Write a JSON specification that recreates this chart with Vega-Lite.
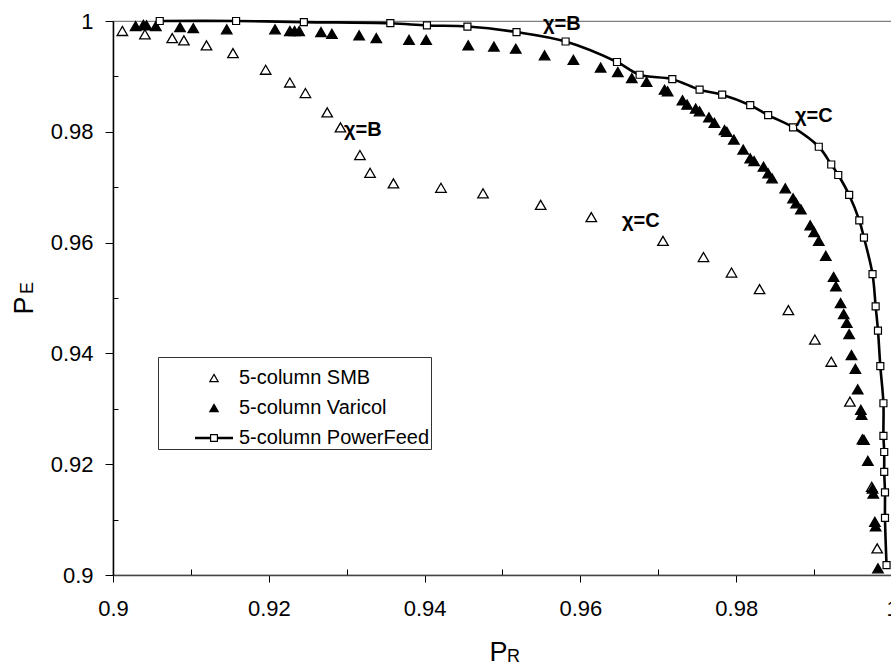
{
  "$schema": "https://vega.github.io/schema/vega-lite/v6.json",
  "width": 779,
  "height": 554,
  "autosize": {"type": "none"},
  "padding": {"left": 113, "top": 21, "right": 0, "bottom": 90},
  "background": "white",
  "view": {"stroke": "#808080", "strokeWidth": 1.2},
  "config": {"font": "Liberation Sans"},
  "datasets": {
    "tri": [
      {"series": "5-column SMB", "x": 0.9012, "y": 0.9982},
      {"series": "5-column SMB", "x": 0.9041, "y": 0.9976},
      {"series": "5-column SMB", "x": 0.9076, "y": 0.9969},
      {"series": "5-column SMB", "x": 0.9091, "y": 0.9965},
      {"series": "5-column SMB", "x": 0.9120, "y": 0.9956},
      {"series": "5-column SMB", "x": 0.9154, "y": 0.9942},
      {"series": "5-column SMB", "x": 0.9196, "y": 0.9912},
      {"series": "5-column SMB", "x": 0.9227, "y": 0.9889},
      {"series": "5-column SMB", "x": 0.9247, "y": 0.9870},
      {"series": "5-column SMB", "x": 0.9275, "y": 0.9835},
      {"series": "5-column SMB", "x": 0.9292, "y": 0.9808},
      {"series": "5-column SMB", "x": 0.9317, "y": 0.9758},
      {"series": "5-column SMB", "x": 0.9330, "y": 0.9726},
      {"series": "5-column SMB", "x": 0.9360, "y": 0.9707},
      {"series": "5-column SMB", "x": 0.9421, "y": 0.9699},
      {"series": "5-column SMB", "x": 0.9475, "y": 0.9689},
      {"series": "5-column SMB", "x": 0.9549, "y": 0.9668},
      {"series": "5-column SMB", "x": 0.9614, "y": 0.9646},
      {"series": "5-column SMB", "x": 0.9706, "y": 0.9603},
      {"series": "5-column SMB", "x": 0.9758, "y": 0.9574},
      {"series": "5-column SMB", "x": 0.9794, "y": 0.9546},
      {"series": "5-column SMB", "x": 0.9830, "y": 0.9516},
      {"series": "5-column SMB", "x": 0.9867, "y": 0.9478},
      {"series": "5-column SMB", "x": 0.9901, "y": 0.9425},
      {"series": "5-column SMB", "x": 0.9922, "y": 0.9385},
      {"series": "5-column SMB", "x": 0.9946, "y": 0.9313},
      {"series": "5-column SMB", "x": 0.9974, "y": 0.9159},
      {"series": "5-column SMB", "x": 0.9981, "y": 0.9048},
      {"series": "5-column Varicol", "x": 0.9029, "y": 0.9991},
      {"series": "5-column Varicol", "x": 0.9039, "y": 0.9993},
      {"series": "5-column Varicol", "x": 0.9043, "y": 0.9992},
      {"series": "5-column Varicol", "x": 0.9055, "y": 0.9991},
      {"series": "5-column Varicol", "x": 0.9086, "y": 0.9989},
      {"series": "5-column Varicol", "x": 0.9103, "y": 0.9987},
      {"series": "5-column Varicol", "x": 0.9146, "y": 0.9985},
      {"series": "5-column Varicol", "x": 0.9208, "y": 0.9985},
      {"series": "5-column Varicol", "x": 0.9227, "y": 0.9982},
      {"series": "5-column Varicol", "x": 0.9233, "y": 0.9982},
      {"series": "5-column Varicol", "x": 0.9239, "y": 0.9982},
      {"series": "5-column Varicol", "x": 0.9267, "y": 0.9980},
      {"series": "5-column Varicol", "x": 0.9281, "y": 0.9977},
      {"series": "5-column Varicol", "x": 0.9316, "y": 0.9974},
      {"series": "5-column Varicol", "x": 0.9338, "y": 0.9969},
      {"series": "5-column Varicol", "x": 0.9380, "y": 0.9966},
      {"series": "5-column Varicol", "x": 0.9402, "y": 0.9966},
      {"series": "5-column Varicol", "x": 0.9456, "y": 0.9956},
      {"series": "5-column Varicol", "x": 0.9489, "y": 0.9954},
      {"series": "5-column Varicol", "x": 0.9517, "y": 0.9950},
      {"series": "5-column Varicol", "x": 0.9554, "y": 0.9938},
      {"series": "5-column Varicol", "x": 0.9591, "y": 0.9930},
      {"series": "5-column Varicol", "x": 0.9626, "y": 0.9916},
      {"series": "5-column Varicol", "x": 0.9648, "y": 0.9908},
      {"series": "5-column Varicol", "x": 0.9666, "y": 0.9897},
      {"series": "5-column Varicol", "x": 0.9685, "y": 0.9890},
      {"series": "5-column Varicol", "x": 0.9708, "y": 0.9876},
      {"series": "5-column Varicol", "x": 0.9712, "y": 0.9873},
      {"series": "5-column Varicol", "x": 0.9731, "y": 0.9857},
      {"series": "5-column Varicol", "x": 0.9737, "y": 0.9849},
      {"series": "5-column Varicol", "x": 0.9748, "y": 0.9842},
      {"series": "5-column Varicol", "x": 0.9753, "y": 0.9837},
      {"series": "5-column Varicol", "x": 0.9765, "y": 0.9826},
      {"series": "5-column Varicol", "x": 0.9772, "y": 0.9816},
      {"series": "5-column Varicol", "x": 0.9785, "y": 0.9803},
      {"series": "5-column Varicol", "x": 0.9788, "y": 0.9800},
      {"series": "5-column Varicol", "x": 0.9797, "y": 0.9786},
      {"series": "5-column Varicol", "x": 0.9809, "y": 0.9768},
      {"series": "5-column Varicol", "x": 0.9818, "y": 0.9752},
      {"series": "5-column Varicol", "x": 0.9823, "y": 0.9747},
      {"series": "5-column Varicol", "x": 0.9835, "y": 0.9737},
      {"series": "5-column Varicol", "x": 0.9841, "y": 0.9725},
      {"series": "5-column Varicol", "x": 0.9846, "y": 0.9716},
      {"series": "5-column Varicol", "x": 0.9863, "y": 0.9698},
      {"series": "5-column Varicol", "x": 0.9873, "y": 0.9680},
      {"series": "5-column Varicol", "x": 0.9877, "y": 0.9671},
      {"series": "5-column Varicol", "x": 0.9883, "y": 0.9660},
      {"series": "5-column Varicol", "x": 0.9895, "y": 0.9631},
      {"series": "5-column Varicol", "x": 0.9900, "y": 0.9619},
      {"series": "5-column Varicol", "x": 0.9906, "y": 0.9603},
      {"series": "5-column Varicol", "x": 0.9915, "y": 0.9576},
      {"series": "5-column Varicol", "x": 0.9925, "y": 0.9538},
      {"series": "5-column Varicol", "x": 0.9928, "y": 0.9521},
      {"series": "5-column Varicol", "x": 0.9934, "y": 0.9491},
      {"series": "5-column Varicol", "x": 0.9938, "y": 0.9471},
      {"series": "5-column Varicol", "x": 0.9942, "y": 0.9455},
      {"series": "5-column Varicol", "x": 0.9945, "y": 0.9435},
      {"series": "5-column Varicol", "x": 0.9948, "y": 0.9397},
      {"series": "5-column Varicol", "x": 0.9953, "y": 0.9372},
      {"series": "5-column Varicol", "x": 0.9956, "y": 0.9335},
      {"series": "5-column Varicol", "x": 0.9960, "y": 0.9298},
      {"series": "5-column Varicol", "x": 0.9961, "y": 0.9289},
      {"series": "5-column Varicol", "x": 0.9962, "y": 0.9245},
      {"series": "5-column Varicol", "x": 0.9964, "y": 0.9244},
      {"series": "5-column Varicol", "x": 0.9969, "y": 0.9206},
      {"series": "5-column Varicol", "x": 0.9975, "y": 0.9156},
      {"series": "5-column Varicol", "x": 0.9976, "y": 0.9147},
      {"series": "5-column Varicol", "x": 0.9978, "y": 0.9096},
      {"series": "5-column Varicol", "x": 0.9979, "y": 0.9088},
      {"series": "5-column Varicol", "x": 0.9982, "y": 0.9012}
    ],
    "pf": [
      {"i": 1, "x": 0.9060, "y": 1.0000},
      {"i": 2, "x": 0.9158, "y": 1.0000},
      {"i": 3, "x": 0.9245, "y": 0.9998},
      {"i": 4, "x": 0.9356, "y": 0.9996},
      {"i": 5, "x": 0.9403, "y": 0.9992},
      {"i": 6, "x": 0.9455, "y": 0.9990},
      {"i": 7, "x": 0.9518, "y": 0.9980},
      {"i": 8, "x": 0.9581, "y": 0.9963},
      {"i": 9, "x": 0.9647, "y": 0.9926},
      {"i": 10, "x": 0.9676, "y": 0.9903},
      {"i": 11, "x": 0.9718, "y": 0.9895},
      {"i": 12, "x": 0.9753, "y": 0.9876},
      {"i": 13, "x": 0.9782, "y": 0.9867},
      {"i": 14, "x": 0.9818, "y": 0.9848},
      {"i": 15, "x": 0.9841, "y": 0.9830},
      {"i": 16, "x": 0.9873, "y": 0.9808},
      {"i": 17, "x": 0.9906, "y": 0.9773},
      {"i": 18, "x": 0.9922, "y": 0.9741},
      {"i": 19, "x": 0.9931, "y": 0.9722},
      {"i": 20, "x": 0.9945, "y": 0.9686},
      {"i": 21, "x": 0.9958, "y": 0.9640},
      {"i": 22, "x": 0.9964, "y": 0.9609},
      {"i": 23, "x": 0.9975, "y": 0.9543},
      {"i": 24, "x": 0.9979, "y": 0.9485},
      {"i": 25, "x": 0.9982, "y": 0.9441},
      {"i": 26, "x": 0.9985, "y": 0.9377},
      {"i": 27, "x": 0.9989, "y": 0.9310},
      {"i": 28, "x": 0.9989, "y": 0.9251},
      {"i": 29, "x": 0.9990, "y": 0.9222},
      {"i": 30, "x": 0.9990, "y": 0.9186},
      {"i": 31, "x": 0.9991, "y": 0.9149},
      {"i": 32, "x": 0.9991, "y": 0.9103},
      {"i": 33, "x": 0.9993, "y": 0.9018}
    ],
    "notes": [
      {"label": "χ=B", "x": 0.92965, "y": 0.97924},
      {"label": "χ=B", "x": 0.9552, "y": 0.99838},
      {"label": "χ=C", "x": 0.98755, "y": 0.98177},
      {"label": "χ=C", "x": 0.96534, "y": 0.96282}
    ],
    "subR": [{"t": "R"}],
    "subE": [{"t": "E"}]
  },
  "layer": [
    {
      "data": {"name": "tri"},
      "mark": {"type": "point", "filled": true, "strokeWidth": 1.3, "size": 2266, "opacity": 1},
      "encoding": {
        "x": {
          "field": "x",
          "type": "quantitative",
          "scale": {"domain": [0.9, 1.0], "nice": false, "zero": false},
          "axis": {
            "values": [0.9, 0.91, 0.92, 0.93, 0.94, 0.95, 0.96, 0.97, 0.98, 0.99, 1.0],
            "title": "P",
            "titleFontSize": 27,
            "titleFontWeight": "normal",
            "titleColor": "black",
            "titleX": 385,
            "titleY": 85,
            "titleAlign": "center",
            "titleBaseline": "alphabetic",
            "labelExpr": "round(datum.value*100) % 2 == 0 ? format(datum.value, '~g') : ''",
            "labelFontSize": 22,
            "labelColor": "black",
            "labelFlush": false,
            "labelOverlap": false,
            "labelPadding": 16,
            "tickSize": {"condition": {"test": "round(datum.value*100) % 2 == 0", "value": 7}, "value": -6},
            "tickColor": "black",
            "tickWidth": 1,
            "domainColor": "#444444",
            "domainWidth": 1.5,
            "grid": false
          }
        },
        "y": {
          "field": "y",
          "type": "quantitative",
          "scale": {"domain": [0.9, 1.0], "nice": false, "zero": false},
          "axis": {
            "values": [0.9, 0.91, 0.92, 0.93, 0.94, 0.95, 0.96, 0.97, 0.98, 0.99, 1.0],
            "title": "P",
            "titleFontSize": 27,
            "titleFontWeight": "normal",
            "titleColor": "black",
            "titleAngle": 270,
            "titleX": -81,
            "titleY": 284,
            "titleAlign": "center",
            "titleBaseline": "alphabetic",
            "labelExpr": "round(datum.value*100) % 2 == 0 ? format(datum.value, '~g') : ''",
            "labelFontSize": 22,
            "labelColor": "black",
            "labelFlush": false,
            "labelOverlap": false,
            "labelPadding": 12,
            "tickSize": {"condition": {"test": "round(datum.value*100) % 2 == 0", "value": 8}, "value": -5},
            "tickColor": "black",
            "tickWidth": 1,
            "domainColor": "black",
            "domainWidth": 1.5,
            "grid": false
          }
        },
        "shape": {
          "field": "series",
          "type": "nominal",
          "scale": {
            "domain": ["5-column SMB", "5-column Varicol", "5-column PowerFeed"],
            "range": [
              "M0,-0.19L0.22,0.19L-0.22,0.19Z",
              "M0,-0.19L0.22,0.19L-0.22,0.19Z",
              "M-1,-0.035H-0.18M-1,0H-0.18M-1,0.035H-0.18M0.18,-0.035H1M0.18,0H1M0.18,0.035H1M-0.18,-0.18H0.18V0.18H-0.18Z"
            ]
          },
          "legend": {
            "orient": "none",
            "legendX": 45,
            "legendY": 336,
            "title": null,
            "labelFontSize": 20,
            "labelColor": "black",
            "labelLimit": 0,
            "symbolSize": 1444,
            "symbolStrokeWidth": 1.2,
            "strokeColor": "#333333",
            "fillColor": "white",
            "padding": 1,
            "rowPadding": 0,
            "labelOffset": 5,
            "symbolOffset": 35
          }
        },
        "fill": {
          "field": "series",
          "type": "nominal",
          "scale": {
            "domain": ["5-column SMB", "5-column Varicol", "5-column PowerFeed"],
            "range": ["white", "black", "white"]
          },
          "legend": {
            "orient": "none",
            "legendX": 45,
            "legendY": 336,
            "title": null,
            "labelFontSize": 20,
            "labelColor": "black",
            "labelLimit": 0,
            "symbolSize": 1444,
            "symbolStrokeWidth": 1.2,
            "strokeColor": "#333333",
            "fillColor": "white",
            "padding": 1,
            "rowPadding": 0,
            "labelOffset": 5,
            "symbolOffset": 35
          }
        },
        "stroke": {
          "field": "series",
          "type": "nominal",
          "scale": {
            "domain": ["5-column SMB", "5-column Varicol", "5-column PowerFeed"],
            "range": ["black", "black", "black"]
          },
          "legend": {
            "orient": "none",
            "legendX": 45,
            "legendY": 336,
            "title": null,
            "labelFontSize": 20,
            "labelColor": "black",
            "labelLimit": 0,
            "symbolSize": 1444,
            "symbolStrokeWidth": 1.2,
            "strokeColor": "#333333",
            "fillColor": "white",
            "padding": 1,
            "rowPadding": 0,
            "labelOffset": 5,
            "symbolOffset": 35
          }
        }
      }
    },
    {
      "data": {"name": "pf"},
      "mark": {"type": "line", "interpolate": "catmull-rom", "color": "black", "strokeWidth": 2.6},
      "encoding": {
        "x": {"field": "x", "type": "quantitative", "scale": {"domain": [0.9, 1.0], "nice": false, "zero": false}},
        "y": {"field": "y", "type": "quantitative", "scale": {"domain": [0.9, 1.0], "nice": false, "zero": false}},
        "order": {"field": "i", "type": "quantitative"}
      }
    },
    {
      "data": {"name": "pf"},
      "mark": {"type": "point", "shape": "square", "filled": true, "fill": "white", "stroke": "black", "strokeWidth": 1.2, "size": 49, "opacity": 1},
      "encoding": {
        "x": {"field": "x", "type": "quantitative", "scale": {"domain": [0.9, 1.0], "nice": false, "zero": false}},
        "y": {"field": "y", "type": "quantitative", "scale": {"domain": [0.9, 1.0], "nice": false, "zero": false}}
      }
    },
    {
      "data": {"name": "notes"},
      "mark": {"type": "text", "align": "left", "baseline": "alphabetic", "fontSize": 20, "fontWeight": "bold", "color": "black"},
      "encoding": {
        "x": {"field": "x", "type": "quantitative", "scale": {"domain": [0.9, 1.0], "nice": false, "zero": false}},
        "y": {"field": "y", "type": "quantitative", "scale": {"domain": [0.9, 1.0], "nice": false, "zero": false}},
        "text": {"field": "label", "type": "nominal"}
      }
    },
    {
      "data": {"name": "subR"},
      "mark": {"type": "text", "align": "left", "baseline": "alphabetic", "fontSize": 18, "color": "black", "dy": 87},
      "encoding": {
        "x": {"datum": 0.95058, "type": "quantitative"},
        "y": {"datum": 0.9, "type": "quantitative"},
        "text": {"field": "t", "type": "nominal"}
      }
    },
    {
      "data": {"name": "subE"},
      "mark": {"type": "text", "align": "left", "baseline": "alphabetic", "fontSize": 18, "angle": 270, "color": "black", "dy": -80},
      "encoding": {
        "x": {"datum": 0.9, "type": "quantitative"},
        "y": {"datum": 0.95072, "type": "quantitative"},
        "text": {"field": "t", "type": "nominal"}
      }
    }
  ]
}
